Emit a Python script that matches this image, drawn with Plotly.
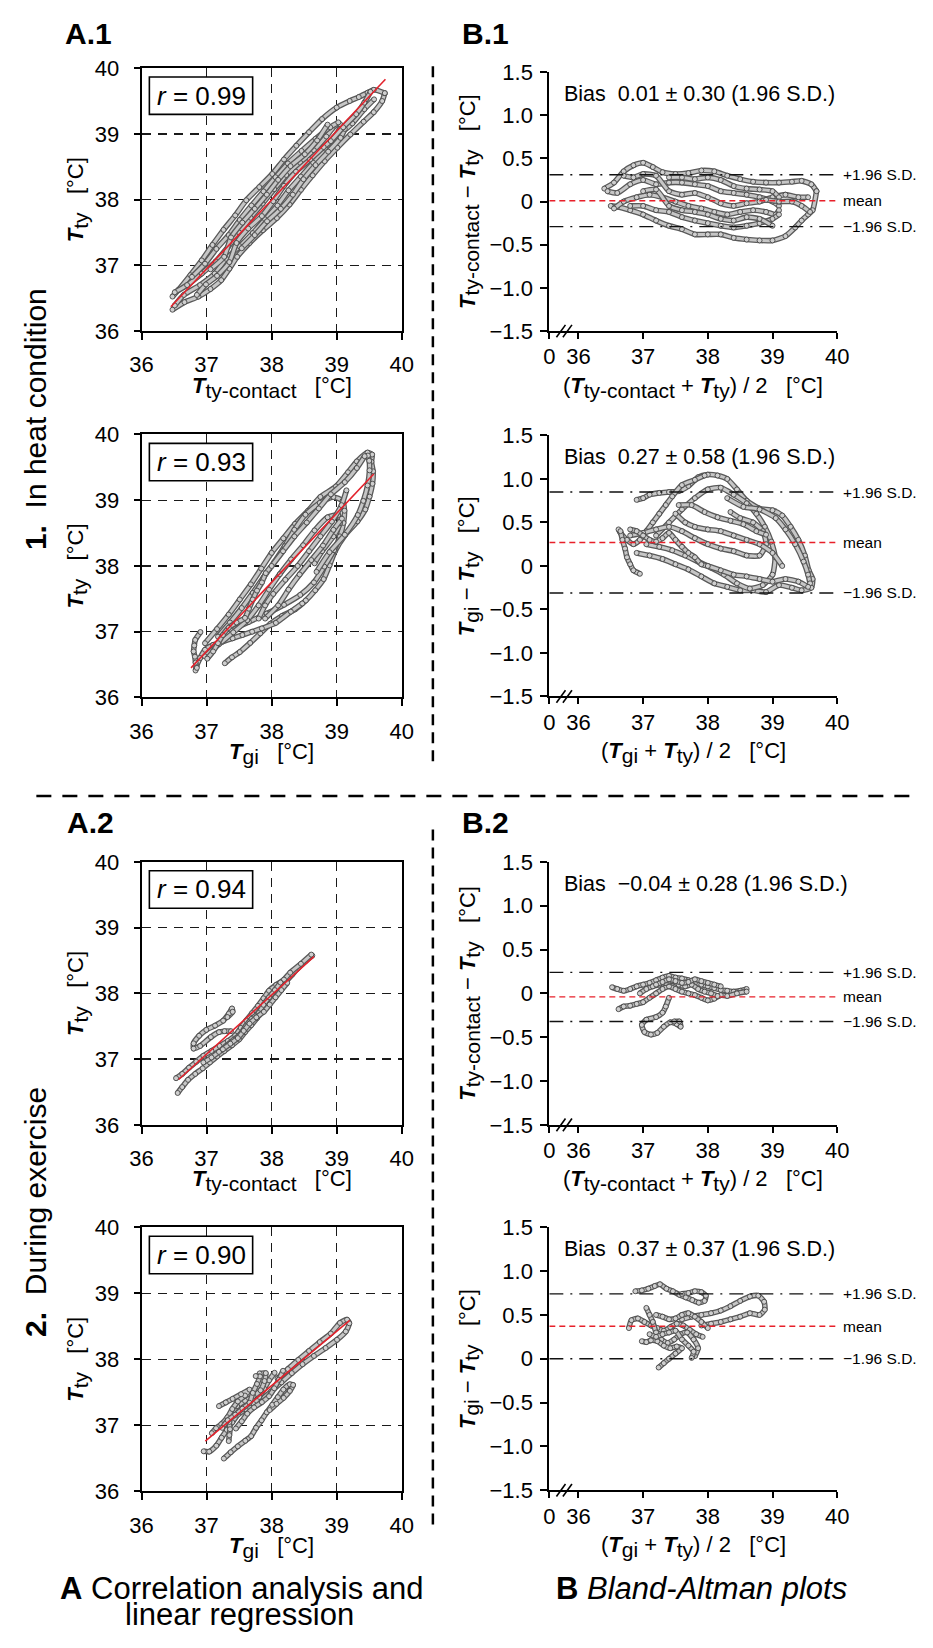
import plotly.graph_objects as go

W, H = 933, 1648
FONT = "Liberation Sans, Arial, Helvetica, sans-serif"

# ------------------------------------------------------------------
# DATA  (mean of both readings and
# their difference, traced path by path; the correlation panels use the
# same readings:  first = mean + diff/2 ,  T_ty = mean - diff/2)
# ------------------------------------------------------------------

# 1. heat condition : T_ty-contact vs T_ty
hc_m_a = [36.40, 36.55, 36.70, 36.85, 37.00, 37.15, 37.30, 37.50, 37.70, 37.90, 38.10, 38.30, 38.50, 38.70, 38.90, 39.10, 39.30, 39.45, 39.60, 39.68]
hc_d_a = [0.15, 0.22, 0.35, 0.42, 0.45, 0.40, 0.34, 0.32, 0.33, 0.36, 0.35, 0.30, 0.26, 0.23, 0.22, 0.22, 0.23, 0.24, 0.20, 0.12]
hc_m_b = [39.68, 39.62, 39.55, 39.45, 39.35, 39.20, 39.00, 38.80, 38.60, 38.40, 38.20, 38.00, 37.80, 37.60, 37.40, 37.20, 37.00, 36.80, 36.60, 36.50]
hc_d_b = [0.12, -0.10, -0.15, -0.22, -0.30, -0.40, -0.45, -0.45, -0.44, -0.42, -0.38, -0.38, -0.38, -0.32, -0.28, -0.22, -0.15, -0.10, -0.06, -0.05]
hc_m_c = [36.45, 36.60, 36.80, 37.00, 37.20, 37.40, 37.60, 37.80, 38.00, 38.20, 38.40, 38.60, 38.80, 39.00, 39.10]
hc_d_c = [0.12, 0.10, 0.20, 0.25, 0.20, 0.22, 0.22, 0.20, 0.18, 0.12, 0.10, 0.08, 0.05, 0.00, -0.05]
hc_m_d = [36.55, 36.70, 36.90, 37.10, 37.30, 37.50, 37.70, 37.90, 38.10, 38.30, 38.50, 38.70, 38.90, 39.05, 39.10]
hc_d_d = [-0.08, 0.00, 0.05, 0.08, 0.05, 0.00, -0.05, -0.08, -0.12, -0.15, -0.12, -0.10, -0.12, -0.15, -0.10]
hc_m_e = [36.70, 36.85, 37.00, 37.20, 37.40, 37.60, 37.80, 38.00, 38.20, 38.40, 38.60, 38.80, 39.00, 39.20, 39.40, 39.55]
hc_d_e = [0.30, 0.28, 0.32, 0.30, 0.12, 0.08, 0.10, 0.05, -0.02, -0.05, -0.02, 0.00, 0.05, 0.08, 0.05, 0.05]
hc_m_f = [36.80, 37.00, 37.20, 37.40, 37.60, 37.80, 38.00, 38.20, 38.40, 38.60, 38.80, 39.00, 39.10]
hc_d_f = [-0.05, -0.05, -0.10, -0.12, -0.18, -0.22, -0.25, -0.28, -0.30, -0.28, -0.25, -0.20, -0.15]
hc_m_g = [37.40, 37.60, 37.80, 38.00, 38.20, 38.40, 38.60, 38.80, 39.00, 39.10]
hc_d_g = [0.28, 0.28, 0.26, 0.28, 0.25, 0.18, 0.15, 0.14, 0.12, 0.05]
hc_m_h = [37.00, 37.20, 37.40, 37.60, 37.80, 38.00, 38.20, 38.40, 38.60, 38.80, 39.00]
hc_d_h = [0.12, 0.14, -0.05, -0.10, -0.12, -0.15, -0.20, -0.22, -0.18, -0.20, -0.28]
hc_m_i = [38.90, 39.10, 39.30, 39.45, 39.58]
hc_d_i = [0.02, 0.00, 0.00, -0.05, -0.12]

# 1. heat condition : T_gi vs T_ty
hg_m_a = [36.90, 37.00, 37.10, 37.25, 37.40, 37.55, 37.70, 37.85, 38.00, 38.15, 38.30, 38.45, 38.60, 38.80, 39.00, 39.15, 39.28, 39.40, 39.50, 39.56, 39.62, 39.60, 39.45, 39.30, 39.10, 38.90, 38.70, 38.50, 38.30, 38.10, 37.90, 37.70, 37.50, 37.30, 37.10, 36.90]
hg_d_a = [0.76, 0.78, 0.82, 0.84, 0.85, 0.86, 0.92, 1.02, 1.05, 1.04, 1.00, 0.88, 0.75, 0.66, 0.64, 0.58, 0.45, 0.30, 0.12, -0.05, -0.15, -0.25, -0.28, -0.25, -0.22, -0.30, -0.28, -0.28, -0.24, -0.20, -0.12, -0.04, 0.02, 0.08, 0.12, 0.15]
hg_m_b = [37.95, 37.80, 37.60, 37.45, 37.35, 37.25, 37.15, 37.05, 36.95, 36.85, 36.75, 36.65, 36.62]
hg_d_b = [1.04, 0.99, 0.93, 0.80, 0.70, 0.60, 0.50, 0.40, 0.30, 0.25, 0.30, 0.38, 0.42]
hg_m_c = [37.20, 37.40, 37.60, 37.80, 38.00, 38.20, 38.40, 38.60, 38.75, 38.88, 38.98, 39.04, 39.00, 38.85, 38.65, 38.45, 38.25, 38.05, 37.85, 37.65, 37.45, 37.25, 37.05]
hg_d_c = [0.35, 0.50, 0.65, 0.78, 0.88, 0.90, 0.82, 0.72, 0.60, 0.45, 0.28, 0.10, -0.10, -0.22, -0.26, -0.20, -0.10, -0.02, 0.05, 0.12, 0.18, 0.22, 0.25]
hg_m_d = [36.80, 37.00, 37.20, 37.40, 37.60, 37.80, 38.00, 38.20, 38.40, 38.60, 38.80, 38.90, 38.85, 38.70, 38.50, 38.35]
hg_d_d = [0.35, 0.38, 0.42, 0.45, 0.40, 0.32, 0.25, 0.20, 0.17, 0.12, 0.12, 0.25, 0.40, 0.50, 0.55, 0.62]
hg_m_e = [38.30, 38.55, 38.80, 39.05, 39.20, 39.35, 39.48, 39.55, 39.58]
hg_d_e = [0.78, 0.68, 0.65, 0.55, 0.42, 0.25, 0.05, -0.10, -0.20]
hg_m_f = [36.65, 36.68, 36.72, 36.75, 36.80, 36.85, 36.95]
hg_d_f = [0.40, 0.30, 0.20, 0.10, 0.02, -0.05, -0.09]
hg_m_g = [36.80, 36.90, 37.00, 37.10, 37.20, 37.30, 37.40, 37.50, 37.60, 37.70, 37.80, 37.90, 38.00, 38.20, 38.40, 38.60, 38.80, 39.00, 39.20, 39.40, 39.55]
hg_d_g = [0.42, 0.40, 0.35, 0.30, 0.28, 0.32, 0.38, 0.30, 0.22, 0.15, 0.10, 0.02, 0.00, -0.05, -0.10, -0.12, -0.15, -0.18, -0.15, -0.18, -0.24]
hg_m_h = [37.50, 37.65, 37.80, 38.00, 38.20, 38.40, 38.60, 38.80, 39.00, 39.15]
hg_d_h = [0.60, 0.50, 0.45, 0.42, 0.40, 0.35, 0.30, 0.25, 0.15, 0.00]
hg_m_i = [37.55, 37.75, 37.95, 38.15, 38.35, 38.55, 38.75, 38.90]
hg_d_i = [0.70, 0.70, 0.62, 0.56, 0.52, 0.48, 0.40, 0.36]

# 2. during exercise : T_ty-contact vs T_ty
ec_m_a = [36.52, 36.60, 36.70, 36.80, 36.90, 37.00, 37.10, 37.20, 37.30, 37.40, 37.50, 37.60, 37.70, 37.80, 37.90, 38.00, 38.10, 38.20, 38.30, 38.40, 38.50, 38.60]
ec_d_a = [0.07, 0.05, 0.03, 0.05, 0.08, 0.10, 0.12, 0.15, 0.18, 0.20, 0.18, 0.17, 0.15, 0.12, 0.10, 0.08, 0.06, 0.04, 0.03, 0.02, 0.03, 0.05]
ec_m_b = [36.62, 36.70, 36.80, 36.90, 37.00, 37.10, 37.20, 37.30, 37.40, 37.50, 37.60, 37.70, 37.80, 37.90, 38.00, 38.10, 38.20, 38.30, 38.45, 38.60]
ec_d_b = [-0.18, -0.15, -0.14, -0.12, -0.10, -0.05, 0.00, 0.05, 0.08, 0.05, 0.02, 0.00, -0.02, -0.05, -0.08, -0.06, -0.02, -0.03, 0.00, 0.02]
ec_m_c = [37.40, 37.35, 37.30, 37.20, 37.05, 36.98, 37.02, 37.12, 37.22, 37.32, 37.42, 37.52, 37.58, 37.56, 37.48]
ec_d_c = [-0.05, -0.15, -0.22, -0.27, -0.30, -0.36, -0.44, -0.47, -0.45, -0.38, -0.33, -0.35, -0.38, -0.32, -0.32]
ec_m_d = [36.95, 37.05, 37.15, 37.25, 37.35, 37.45, 37.55, 37.65, 37.75, 37.85, 37.95, 38.05, 38.15]
ec_d_d = [0.00, 0.05, 0.08, 0.10, 0.12, 0.14, 0.10, 0.08, 0.10, 0.05, 0.02, 0.00, -0.03]
ec_m_e = [37.20, 37.30, 37.40, 37.50, 37.60, 37.70, 37.80, 37.90, 38.00, 38.10, 38.20]
ec_d_e = [0.10, 0.13, 0.16, 0.14, 0.12, 0.13, 0.16, 0.14, 0.12, 0.10, 0.08]

# 2. during exercise : T_gi vs T_ty
eg_m_a = [36.88, 36.98, 37.08, 37.18, 37.26, 37.36, 37.46, 37.56, 37.66, 37.76, 37.86, 37.95, 37.97, 37.90, 37.80, 37.70, 37.60]
eg_d_a = [0.77, 0.78, 0.80, 0.83, 0.85, 0.80, 0.77, 0.73, 0.70, 0.67, 0.64, 0.66, 0.72, 0.76, 0.77, 0.75, 0.74]
eg_m_b = [37.60, 37.75, 37.90, 38.05, 38.20, 38.35, 38.50, 38.65, 38.78, 38.87, 38.88, 38.80, 38.65, 38.50, 38.35, 38.20, 38.05, 37.90]
eg_d_b = [0.45, 0.48, 0.50, 0.52, 0.55, 0.60, 0.66, 0.71, 0.72, 0.65, 0.56, 0.50, 0.52, 0.48, 0.45, 0.42, 0.40, 0.38]
eg_m_c = [36.78, 36.82, 36.92, 37.02, 37.12, 37.22, 37.32, 37.42, 37.52, 37.62, 37.72, 37.82, 37.92]
eg_d_c = [0.35, 0.44, 0.46, 0.42, 0.38, 0.35, 0.32, 0.36, 0.40, 0.38, 0.33, 0.28, 0.25]
eg_m_d = [37.05, 37.10, 37.15, 37.20, 37.28, 37.38, 37.48, 37.58, 37.68, 37.78, 37.85, 37.80]
eg_d_d = [0.58, 0.50, 0.42, 0.30, 0.22, 0.18, 0.22, 0.28, 0.30, 0.22, 0.12, 0.03]
eg_m_e = [36.98, 37.05, 37.12, 37.22, 37.32, 37.42, 37.52, 37.60, 37.50, 37.40, 37.32, 37.24]
eg_d_e = [0.20, 0.19, 0.21, 0.20, 0.15, 0.12, 0.14, 0.12, 0.06, 0.00, -0.05, -0.10]
eg_m_f = [37.20, 37.30, 37.40, 37.50, 37.60, 37.70, 37.80, 37.90, 38.00]
eg_d_f = [0.50, 0.48, 0.45, 0.46, 0.50, 0.52, 0.48, 0.42, 0.35]
eg_m_g = [37.10, 37.20, 37.30, 37.40, 37.50, 37.60, 37.70, 37.78, 37.75]
eg_d_g = [0.28, 0.25, 0.28, 0.30, 0.32, 0.22, 0.15, 0.08, 0.01]

heat_contact_paths = [(hc_m_a, hc_d_a), (hc_m_b, hc_d_b), (hc_m_c, hc_d_c), (hc_m_d, hc_d_d), (hc_m_e, hc_d_e),
                      (hc_m_f, hc_d_f), (hc_m_g, hc_d_g), (hc_m_h, hc_d_h), (hc_m_i, hc_d_i)]
heat_gi_paths = [(hg_m_a, hg_d_a), (hg_m_b, hg_d_b), (hg_m_c, hg_d_c), (hg_m_d, hg_d_d), (hg_m_e, hg_d_e),
                 (hg_m_f, hg_d_f), (hg_m_g, hg_d_g), (hg_m_h, hg_d_h), (hg_m_i, hg_d_i)]
ex_contact_paths = [(ec_m_a, ec_d_a), (ec_m_b, ec_d_b), (ec_m_c, ec_d_c), (ec_m_d, ec_d_d), (ec_m_e, ec_d_e)]
ex_gi_paths = [(eg_m_a, eg_d_a), (eg_m_b, eg_d_b), (eg_m_c, eg_d_c), (eg_m_d, eg_d_d), (eg_m_e, eg_d_e),
               (eg_m_f, eg_d_f), (eg_m_g, eg_d_g)]

# regression lines (end points)
reg_hc_x = [36.45, 39.75]
reg_hc_y = [36.37, 39.83]
reg_hg_x = [36.76, 39.57]
reg_hg_y = [36.45, 39.40]
reg_ec_x = [36.57, 38.65]
reg_ec_y = [36.69, 38.56]
reg_eg_x = [36.98, 39.20]
reg_eg_y = [36.76, 38.59]

r_values = [0.99, 0.93, 0.94, 0.90]
bias_values = [0.01, 0.27, -0.04, 0.37]
loa_values = [0.30, 0.58, 0.28, 0.37]   # 1.96 S.D.

temp_ticks = [36, 37, 38, 39, 40]
diff_ticks = [-1.5, -1.0, -0.5, 0, 0.5, 1.0, 1.5]
diff_tick_text = ["\u22121.5", "\u22121.0", "\u22120.5", "0", "0.5", "1.0", "1.5"]
ba_x_ticks = [35.55, 36, 37, 38, 39, 40]
ba_x_tick_text = ["0", "36", "37", "38", "39", "40"]
ba_x_range = [35.55, 40]

# ------------------------------------------------------------------
# LAYOUT HELPERS
# ------------------------------------------------------------------
def px_x(p):
    return p / W


def px_y(p):
    return 1 - p / H


def aref(letter, n):
    return letter if n == 1 else f"{letter}{n}"


def akey(letter, n):
    return f"{letter}axis" if n == 1 else f"{letter}axis{n}"


A_DOM = [px_x(133), px_x(400)]
B_DOM = [px_x(551.5), px_x(847)]
A_ROWS = [(57, 324), (429, 696), (863, 1130), (1234, 1502)]
B_ROWS = [(61, 324), (430, 695), (863, 1130), (1234, 1501)]

NB = "\u00a0"


def T(s):
    return f'<b><i>T</i></b><sub><span style="font-size:21px">{s}</span></sub>'


UNIT = NB * 3 + "[\u00b0C]"
a_xtitles = [T("ty-contact") + UNIT, T("gi") + UNIT, T("ty-contact") + UNIT, T("gi") + UNIT]
a_ytitle = T("ty") + UNIT
b_xtitles = ["(" + T("ty-contact") + " + " + T("ty") + ") / 2" + UNIT,
             "(" + T("gi") + " + " + T("ty") + ") / 2" + UNIT,
             "(" + T("ty-contact") + " + " + T("ty") + ") / 2" + UNIT,
             "(" + T("gi") + " + " + T("ty") + ") / 2" + UNIT]
b_ytitles = [T("ty-contact") + " \u2212 " + T("ty") + UNIT,
             T("gi") + " \u2212 " + T("ty") + UNIT,
             T("ty-contact") + " \u2212 " + T("ty") + UNIT,
             T("gi") + " \u2212 " + T("ty") + UNIT]

datasets = [heat_contact_paths, heat_gi_paths, ex_contact_paths, ex_gi_paths]
regs = [(reg_hc_x, reg_hc_y), (reg_hg_x, reg_hg_y), (reg_ec_x, reg_ec_y), (reg_eg_x, reg_eg_y)]

fig = go.Figure()


def add_rope(xs, ys, xr, yr):
    fig.add_trace(go.Scatter(x=xs, y=ys, xaxis=xr, yaxis=yr, mode="lines",
                             line=dict(color="#5a5a5a", width=5.6, shape="spline", smoothing=0.6),
                             hoverinfo="skip", showlegend=False))
    fig.add_trace(go.Scatter(x=xs, y=ys, xaxis=xr, yaxis=yr, mode="lines+markers",
                             line=dict(color="#c6c6c6", width=3.0, shape="spline", smoothing=0.6),
                             marker=dict(size=5, color="#cfcfcf", line=dict(color="#444444", width=0.9)),
                             hoverinfo="skip", showlegend=False))


layout = dict(width=W, height=H, margin=dict(l=0, r=0, t=0, b=0),
              paper_bgcolor="white", plot_bgcolor="white", showlegend=False,
              font=dict(family=FONT, color="black"))
annotations = []
shapes = []
tick_font = dict(family=FONT, size=22, color="black")

for i in range(4):
    a, b = 2 * i + 1, 2 * i + 2
    ov = 9 + i
    xa, ya, xb, yb = aref("x", a), aref("y", a), aref("x", b), aref("y", b)
    ta, ba_ = A_ROWS[i]
    tb, bb = B_ROWS[i]

    # --- data ropes ---
    for m, d in datasets[i]:
        first = [round(mm + dd / 2, 3) for mm, dd in zip(m, d)]
        tty = [round(mm - dd / 2, 3) for mm, dd in zip(m, d)]
        add_rope(first, tty, xa, ya)
    for m, d in datasets[i]:
        add_rope(m, d, xb, yb)

    # regression line
    rx, ry = regs[i]
    fig.add_trace(go.Scatter(x=rx, y=ry, xaxis=xa, yaxis=ya, mode="lines",
                             line=dict(color="#e3222c", width=1.6), hoverinfo="skip", showlegend=False))

    # Bland-Altman reference lines
    bias, loa = bias_values[i], loa_values[i]
    for val, dash, col in [(bias + loa, "14px,7px,2px,7px", "#111111"),
                           (bias - loa, "14px,7px,2px,7px", "#111111"),
                           (bias, "6px,4px", "#e8202a")]:
        fig.add_trace(go.Scatter(x=ba_x_range, y=[val, val], xaxis=xb, yaxis=yb, mode="lines",
                                 line=dict(color=col, width=1.4, dash=dash),
                                 hoverinfo="skip", showlegend=False))
    for val, lab in [(bias + loa, "+1.96 S.D."), (bias, "mean"), (bias - loa, "\u22121.96 S.D.")]:
        annotations.append(dict(x=40, y=val, xref=xb, yref=yb, text=lab, showarrow=False,
                                xanchor="left", yanchor="middle", xshift=4,
                                font=dict(family=FONT, size=15.5, color="black")))

    # --- axes: correlation panel ---
    layout[akey("x", a)] = dict(domain=A_DOM, anchor=ya, range=[36, 40], tickvals=temp_ticks,
                                ticks="outside", ticklen=7, tickwidth=2, tickcolor="black",
                                showline=True, linewidth=2, linecolor="black", mirror=True,
                                showgrid=True, gridcolor="#1a1a1a", gridwidth=1.3, griddash="9px,7px",
                                zeroline=False, tickfont=tick_font, ticklabelstandoff=6, fixedrange=True)
    layout[akey("y", a)] = dict(domain=[px_y(ba_), px_y(ta)], anchor=xa, range=[36, 40], tickvals=temp_ticks,
                                ticks="outside", ticklen=6, tickwidth=2, tickcolor="black",
                                showline=True, linewidth=2, linecolor="black", mirror=True,
                                showgrid=True, gridcolor="#1a1a1a", gridwidth=1.3, griddash="9px,7px",
                                zeroline=False, tickfont=tick_font, ticklabelstandoff=10, fixedrange=True)
    # --- axes: Bland-Altman panel ---
    layout[akey("x", b)] = dict(domain=B_DOM, anchor=yb, range=ba_x_range, tickvals=ba_x_ticks,
                                ticktext=ba_x_tick_text, ticks="outside", ticklen=6, tickwidth=2,
                                tickcolor="black", showline=True, linewidth=2, linecolor="black",
                                showgrid=False, zeroline=False, tickfont=tick_font,
                                ticklabelstandoff=-1, fixedrange=True)
    layout[akey("y", b)] = dict(domain=[px_y(bb), px_y(tb)], anchor=xb, range=[-1.5, 1.5],
                                tickvals=diff_ticks, ticktext=diff_tick_text, ticks="outside", ticklen=7,
                                tickwidth=2, tickcolor="black", showline=True, linewidth=2,
                                linecolor="black", showgrid=False, zeroline=False, tickfont=tick_font,
                                ticklabelstandoff=3, fixedrange=True)
    # overlay axes giving the inner half of the crossing tick marks
    layout[akey("x", ov)] = dict(overlaying=xb, anchor=yb, range=ba_x_range, tickvals=temp_ticks,
                                 ticks="inside", ticklen=6, tickwidth=2, tickcolor="black",
                                 showticklabels=False, showline=False, showgrid=False, zeroline=False,
                                 fixedrange=True)
    layout[akey("y", ov)] = dict(overlaying=yb, anchor=xb, side="left", range=[-1.5, 1.5],
                                 tickvals=diff_ticks, ticks="inside", ticklen=5, tickwidth=2,
                                 tickcolor="black", showticklabels=False, showline=False,
                                 showgrid=False, zeroline=False, fixedrange=True)

    # axis titles
    annotations.append(dict(x=0.5, y=0, xref=f"{xa} domain", yref=f"{ya} domain", yshift=-56,
                            text=a_xtitles[i], showarrow=False, xanchor="center", yanchor="middle",
                            font=dict(family=FONT, size=22, color="black")))
    annotations.append(dict(x=0, y=0.5, xref=f"{xa} domain", yref=f"{ya} domain", xshift=-64,
                            text=a_ytitle, showarrow=False, textangle=-90, xanchor="center",
                            yanchor="middle", font=dict(family=FONT, size=22, color="black")))
    annotations.append(dict(x=0.5, y=0, xref=f"{xb} domain", yref=f"{yb} domain", yshift=-56,
                            text=b_xtitles[i], showarrow=False, xanchor="center", yanchor="middle",
                            font=dict(family=FONT, size=22, color="black")))
    annotations.append(dict(x=0, y=0.5, xref=f"{xb} domain", yref=f"{yb} domain", xshift=-80,
                            text=b_ytitles[i], showarrow=False, textangle=-90, xanchor="center",
                            yanchor="middle", font=dict(family=FONT, size=22, color="black")))

    # r box
    shapes.append(dict(type="rect", xref=f"{xa} domain", yref=f"{ya} domain",
                       x0=8 / 267, x1=114 / 267, y0=1 - 47 / 267, y1=1 - 9 / 267,
                       line=dict(color="black", width=1.6), fillcolor="white", layer="above"))
    annotations.append(dict(x=61 / 267, y=1 - 28 / 267, xref=f"{xa} domain", yref=f"{ya} domain",
                            text=f"<i>r</i> = {r_values[i]:.2f}", showarrow=False, xanchor="center",
                            yanchor="middle", font=dict(family=FONT, size=26, color="black")))
    # bias text
    btxt = f"{bias:.2f}".replace("-", "\u2212")
    annotations.append(dict(x=0, y=1, xref=f"{xb} domain", yref=f"{yb} domain", xshift=13, yshift=-22,
                            text=f"Bias{NB}{NB}{btxt} \u00b1 {loa:.2f} (1.96 S.D.)", showarrow=False,
                            xanchor="left", yanchor="middle",
                            font=dict(family=FONT, size=21.5, color="black")))
    # axis break marks
    for x0 in (35.66, 35.76):
        shapes.append(dict(type="line", xref=xb, yref=f"{yb} domain", x0=x0, x1=x0 + 0.14,
                           y0=-0.024, y1=0.024, line=dict(color="black", width=1.6)))

# panel labels
for txt, cx, cy in [("A.1", 79, 22), ("B.1", 486, 22), ("A.2", 81, 823), ("B.2", 486, 823)]:
    annotations.append(dict(x=px_x(cx), y=px_y(cy), xref="paper", yref="paper", text=f"<b>{txt}</b>",
                            showarrow=False, xanchor="center", yanchor="middle",
                            font=dict(family=FONT, size=30, color="black")))
# row labels
for txt, cy in [(f"<b>1.</b>{NB}{NB}In heat condition", 413), (f"<b>2.</b>{NB}{NB}During exercise", 1218)]:
    annotations.append(dict(x=px_x(24), y=px_y(cy), xref="paper", yref="paper", text=txt, textangle=-90,
                            showarrow=False, xanchor="center", yanchor="middle",
                            font=dict(family=FONT, size=30, color="black")))
# column captions
annotations.append(dict(x=px_x(236), y=px_y(1601), xref="paper", yref="paper",
                        text="<b>A</b> Correlation analysis and", showarrow=False,
                        xanchor="center", yanchor="middle", font=dict(family=FONT, size=31, color="black")))
annotations.append(dict(x=px_x(234), y=px_y(1627), xref="paper", yref="paper",
                        text="linear regression", showarrow=False,
                        xanchor="center", yanchor="middle", font=dict(family=FONT, size=31, color="black")))
annotations.append(dict(x=px_x(708), y=px_y(1601), xref="paper", yref="paper",
                        text="<b>B</b> <i>Bland-Altman plots</i>", showarrow=False,
                        xanchor="center", yanchor="middle", font=dict(family=FONT, size=31, color="black")))

# separators
shapes.append(dict(type="line", xref="paper", yref="paper", x0=px_x(25), x1=px_x(930),
                   y0=px_y(796), y1=px_y(796), line=dict(color="black", width=2.5, dash="15px,11px")))
for y0, y1 in [(55, 768), (830, 1543)]:
    shapes.append(dict(type="line", xref="paper", yref="paper", x0=px_x(432), x1=px_x(432),
                       y0=px_y(y0), y1=px_y(y1), line=dict(color="black", width=2.5, dash="11px,7px")))

layout["annotations"] = annotations
layout["shapes"] = shapes
fig.update_layout(**layout)

fig.write_html("out.html", include_plotlyjs=True,
               config={"displayModeBar": False, "staticPlot": True},
               post_script="document.body.style.margin='0px';document.body.style.padding='0px';"
                           "document.documentElement.style.overflow='hidden';")
